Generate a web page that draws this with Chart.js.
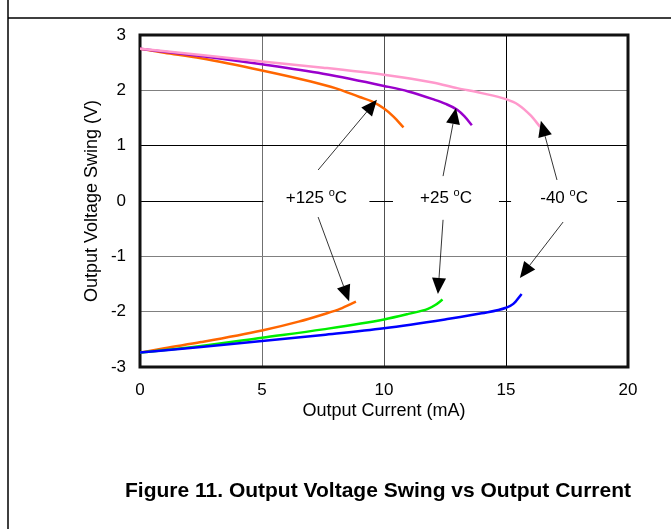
<!DOCTYPE html>
<html>
<head>
<meta charset="utf-8">
<script src="https://cdn.jsdelivr.net/npm/chart.js@4.4.0/dist/chart.umd.min.js"></script>
<style>
  html, body { margin: 0; padding: 0; background: #fff; }
  #wrap { width: 671px; height: 529px; position: relative; }
</style>
</head>
<body>
<div id="wrap"><canvas id="myChartCanvas"></canvas></div>
<script>
// Output current (mA) and output voltage swing (V)
const hotHighX  = [0, 1, 2.5, 5, 7, 8, 9, 9.5, 10, 10.4, 10.8];
const hotHighY  = [2.75, 2.68, 2.58, 2.36, 2.16, 2.04, 1.88, 1.8, 1.67, 1.52, 1.33];
const roomHighX = [0, 2.5, 5, 7.5, 10, 11, 12, 12.5, 13, 13.3, 13.6];
const roomHighY = [2.75, 2.62, 2.47, 2.3, 2.08, 1.98, 1.84, 1.76, 1.65, 1.53, 1.37];
const coldHighX = [0, 2.5, 5, 7.5, 10, 12, 13, 14, 15, 15.5, 16, 16.4];
const coldHighY = [2.75, 2.64, 2.52, 2.41, 2.28, 2.14, 2.04, 1.95, 1.84, 1.74, 1.55, 1.34];

const hotLowX  = [0, 1, 2.5, 5, 6.5, 7.5, 8.2, 8.85];
const hotLowY  = [-2.74, -2.66, -2.55, -2.34, -2.18, -2.05, -1.95, -1.82];
const roomLowX = [0, 2.5, 5, 7.5, 10, 11, 11.8, 12.1, 12.4];
const roomLowY = [-2.74, -2.62, -2.47, -2.32, -2.14, -2.04, -1.95, -1.88, -1.78];
const coldLowX = [0, 2.5, 5, 7.5, 10, 12.5, 14, 15, 15.3, 15.64];
const coldLowY = [-2.74, -2.64, -2.53, -2.42, -2.3, -2.14, -2.03, -1.93, -1.86, -1.68];

const tempLabels = ['+125', '+25', '-40'];

const zip = (xs, ys) => xs.map((x, i) => ({ x: x, y: ys[i] }));

// label anchors and arrows, in data units
const labelPos = [[7.23, 0.05], [12.54, 0.05], [17.38, 0.05]];
const arrows = [
  [7.30, 0.56, 9.71, 1.83],
  [7.30, -0.29, 8.57, -1.81],
  [12.42, 0.45, 12.95, 1.68],
  [12.42, -0.34, 12.21, -1.68],
  [17.09, 0.38, 16.43, 1.45],
  [17.34, -0.38, 15.57, -1.39]
];

const line = (data, color) => ({
  data: data,
  borderColor: color,
  borderWidth: 2.5,
  pointRadius: 0,
  cubicInterpolationMode: 'monotone',
  fill: false
});

const data = {
  datasets: [
    line(zip(coldHighX, coldHighY), '#ff99cc'),
    line(zip(roomHighX, roomHighY), '#9900cc'),
    line(zip(hotHighX, hotHighY), '#ff6600'),
    line(zip(coldLowX, coldLowY), '#0000ff'),
    line(zip(roomLowX, roomLowY), '#00ee00'),
    line(zip(hotLowX, hotLowY), '#ff6600')
  ]
};

const yGrid = { '2': '#808080', '1': '#000', '0': '#000', '-1': '#808080', '-2': '#808080' };
const xGrid = { '5': '#707070', '10': '#505050', '15': '#000' };

const framePlugin = {
  id: 'frame',
  beforeDatasetsDraw(chart) {
    const { ctx, chartArea: a } = chart;
    ctx.save();
    ctx.strokeStyle = '#111';
    ctx.lineWidth = 3;
    ctx.strokeRect(a.left, a.top, a.right - a.left, a.bottom - a.top);
    ctx.restore();
  },
  afterDatasetsDraw(chart) {
    const { ctx, scales } = chart;
    const sx = v => scales.x.getPixelForValue(v);
    const sy = v => scales.y.getPixelForValue(v);
    ctx.save();
    // labels
    tempLabels.forEach((t, i) => {
      const cx = sx(labelPos[i][0]), cy = sy(labelPos[i][1]);
      const big = '17px "Liberation Sans", Arial, sans-serif';
      const small = '11px "Liberation Sans", Arial, sans-serif';
      ctx.font = big;
      const w1 = ctx.measureText(t + ' ').width;
      const w3 = ctx.measureText('C').width;
      ctx.font = small;
      const w2 = ctx.measureText('o').width;
      const w = w1 + w2 + w3;
      ctx.fillStyle = '#fff';
      ctx.fillRect(cx - 53, cy - 10, 106, 14);
      ctx.fillStyle = '#000';
      ctx.textBaseline = 'middle';
      ctx.textAlign = 'left';
      let x0 = cx - w / 2;
      ctx.font = big;
      ctx.fillText(t + ' ', x0, cy);
      ctx.font = small;
      ctx.fillText('o', x0 + w1, cy - 5);
      ctx.font = big;
      ctx.fillText('C', x0 + w1 + w2, cy);
    });
    // arrows
    arrows.forEach(a => {
      const x1 = sx(a[0]), y1 = sy(a[1]), x2 = sx(a[2]), y2 = sy(a[3]);
      const ang = Math.atan2(y2 - y1, x2 - x1);
      const len = 16, half = 7;
      const bx = x2 - len * Math.cos(ang), by = y2 - len * Math.sin(ang);
      ctx.strokeStyle = '#000';
      ctx.lineWidth = 0.8;
      ctx.beginPath();
      ctx.moveTo(x1, y1);
      ctx.lineTo(bx, by);
      ctx.stroke();
      ctx.fillStyle = '#000';
      ctx.beginPath();
      ctx.moveTo(x2, y2);
      ctx.lineTo(bx + half * Math.sin(ang), by - half * Math.cos(ang));
      ctx.lineTo(bx - half * Math.sin(ang), by + half * Math.cos(ang));
      ctx.closePath();
      ctx.fill();
    });
    ctx.restore();
  },
  afterDraw(chart) {
    const { ctx } = chart;
    ctx.save();
    ctx.strokeStyle = '#000';
    ctx.lineWidth = 1.5;
    ctx.beginPath();
    ctx.moveTo(8, 0);
    ctx.lineTo(8, 529);
    ctx.moveTo(8, 18);
    ctx.lineTo(671, 18);
    ctx.stroke();
    ctx.fillStyle = '#000';
    ctx.font = 'bold 21px "Liberation Sans", Arial, sans-serif';
    ctx.textAlign = 'center';
    ctx.textBaseline = 'middle';
    ctx.fillText('Figure 11. Output Voltage Swing vs Output Current', 378, 491);
    ctx.restore();
  }
};

const tickFont = { family: '"Liberation Sans", Arial, sans-serif', size: 17 };
const titleFont = { family: '"Liberation Sans", Arial, sans-serif', size: 18 };

const config = {
  type: 'line',
  data: data,
  options: {
    responsive: true,
    maintainAspectRatio: false,
    animation: false,
    layout: { padding: { top: 35, right: 43, left: 0, bottom: 106 } },
    plugins: {
      legend: { display: false },
      tooltip: { enabled: false }
    },
    scales: {
      x: {
        type: 'linear',
        min: 0,
        max: 20,
        ticks: { stepSize: 5, color: '#000', font: tickFont, padding: 13, maxRotation: 0 },
        grid: {
          drawTicks: false,
          lineWidth: 1,
          color: c => xGrid[String(c.tick ? c.tick.value : '')] || '#000'
        },
        border: { display: false },
        title: {
          display: true,
          text: 'Output Current (mA)',
          color: '#000',
          font: titleFont,
          padding: { top: 0, bottom: 1 }
        },
        afterFit: s => { s.height = 56; }
      },
      y: {
        min: -3,
        max: 3,
        ticks: { stepSize: 1, color: '#000', font: tickFont, padding: 14 },
        grid: {
          drawTicks: false,
          lineWidth: 1,
          color: c => yGrid[String(c.tick ? c.tick.value : '')] || '#000'
        },
        border: { display: false },
        title: {
          display: true,
          text: 'Output Voltage Swing (V)',
          color: '#000',
          font: titleFont,
          padding: { top: 81, bottom: 0 }
        },
        afterFit: s => { s.width = 140; }
      }
    }
  },
  plugins: [framePlugin]
};

const canvasEl = document.getElementById('myChartCanvas');
const chart = new Chart(canvasEl, config);
</script>
</body>
</html>
